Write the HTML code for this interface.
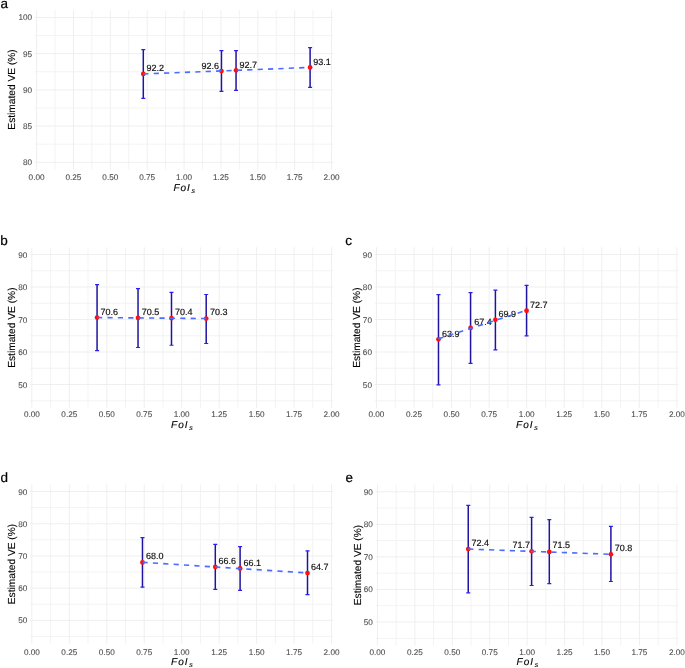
<!DOCTYPE html>
<html><head><meta charset="utf-8"><style>html,body{margin:0;padding:0;background:#fff;}
svg{display:block;font-family:"Liberation Sans", sans-serif;will-change:transform;text-rendering:geometricPrecision;}
.mn{stroke:#F3F3F3;stroke-width:1.0;}
.mj{stroke:#EFEFEF;stroke-width:1.0;}
.at{font-size:8.2px;fill:#4D4D4D;stroke:#4D4D4D;stroke-width:0.1px;}
.ti{font-size:10px;fill:#000;stroke:#000;stroke-width:0.12px;}
.xt{font-style:italic;letter-spacing:1px;}
.sub{font-size:7px;}
.yt{font-size:10.2px;}
.lb{font-size:9px;fill:#111;stroke:#111;stroke-width:0.18px;}
.tg{font-size:13.5px;fill:#000;stroke:#000;stroke-width:0.2px;}
.eb{stroke:#1E14A0;stroke-width:1.5;fill:none;}
.cap{stroke:#2A1EF2;stroke-width:1.2;fill:none;}
.pt{fill:#FF1010;}
.fit{stroke:#4A6CFF;stroke-width:1.6;stroke-dasharray:5.2 5.2;fill:none;}
</style></head>
<body><svg width="685" height="668" viewBox="0 0 685 668">
<line x1="34.77" x2="333.24" y1="144.19" y2="144.19" class="mn"/>
<line x1="34.77" x2="333.24" y1="107.97" y2="107.97" class="mn"/>
<line x1="34.77" x2="333.24" y1="71.76" y2="71.76" class="mn"/>
<line x1="34.77" x2="333.24" y1="35.54" y2="35.54" class="mn"/>
<line x1="55.01" x2="55.01" y1="10.19" y2="169.54" class="mn"/>
<line x1="91.88" x2="91.88" y1="10.19" y2="169.54" class="mn"/>
<line x1="128.75" x2="128.75" y1="10.19" y2="169.54" class="mn"/>
<line x1="165.62" x2="165.62" y1="10.19" y2="169.54" class="mn"/>
<line x1="202.49" x2="202.49" y1="10.19" y2="169.54" class="mn"/>
<line x1="239.36" x2="239.36" y1="10.19" y2="169.54" class="mn"/>
<line x1="276.23" x2="276.23" y1="10.19" y2="169.54" class="mn"/>
<line x1="313.10" x2="313.10" y1="10.19" y2="169.54" class="mn"/>
<line x1="34.77" x2="333.24" y1="162.30" y2="162.30" class="mj"/>
<line x1="34.77" x2="333.24" y1="126.08" y2="126.08" class="mj"/>
<line x1="34.77" x2="333.24" y1="89.87" y2="89.87" class="mj"/>
<line x1="34.77" x2="333.24" y1="53.65" y2="53.65" class="mj"/>
<line x1="34.77" x2="333.24" y1="17.43" y2="17.43" class="mj"/>
<line x1="36.57" x2="36.57" y1="10.19" y2="169.54" class="mj"/>
<line x1="73.44" x2="73.44" y1="10.19" y2="169.54" class="mj"/>
<line x1="110.31" x2="110.31" y1="10.19" y2="169.54" class="mj"/>
<line x1="147.18" x2="147.18" y1="10.19" y2="169.54" class="mj"/>
<line x1="184.06" x2="184.06" y1="10.19" y2="169.54" class="mj"/>
<line x1="220.93" x2="220.93" y1="10.19" y2="169.54" class="mj"/>
<line x1="257.80" x2="257.80" y1="10.19" y2="169.54" class="mj"/>
<line x1="294.67" x2="294.67" y1="10.19" y2="169.54" class="mj"/>
<line x1="331.54" x2="331.54" y1="10.19" y2="169.54" class="mj"/>
<text x="32.07" y="165.30" class="at" text-anchor="end">80</text>
<text x="32.07" y="129.08" class="at" text-anchor="end">85</text>
<text x="32.07" y="92.87" class="at" text-anchor="end">90</text>
<text x="32.07" y="56.65" class="at" text-anchor="end">95</text>
<text x="32.07" y="20.43" class="at" text-anchor="end">100</text>
<text x="36.57" y="180.00" class="at" text-anchor="middle">0.00</text>
<text x="73.44" y="180.00" class="at" text-anchor="middle">0.25</text>
<text x="110.31" y="180.00" class="at" text-anchor="middle">0.50</text>
<text x="147.18" y="180.00" class="at" text-anchor="middle">0.75</text>
<text x="184.06" y="180.00" class="at" text-anchor="middle">1.00</text>
<text x="220.93" y="180.00" class="at" text-anchor="middle">1.25</text>
<text x="257.80" y="180.00" class="at" text-anchor="middle">1.50</text>
<text x="294.67" y="180.00" class="at" text-anchor="middle">1.75</text>
<text x="331.54" y="180.00" class="at" text-anchor="middle">2.00</text>
<text x="173.45" y="191.20" class="ti xt">FoI<tspan class="sub" dx="0.7" dy="1.7">s</tspan></text>
<text transform="translate(15.00,89.46) rotate(-90)" class="ti yt" text-anchor="middle">Estimated VE (%)</text>
<path d="M143.30,49.60V98.40" class="eb"/><path d="M141.30,49.60H145.30M141.30,98.40H145.30" class="cap"/>
<path d="M221.46,50.54V91.36" class="eb"/><path d="M219.46,50.54H223.46M219.46,91.36H223.46" class="cap"/>
<path d="M236.05,50.54V90.34" class="eb"/><path d="M234.05,50.54H238.05M234.05,90.34H238.05" class="cap"/>
<path d="M310.10,47.55V87.42" class="eb"/><path d="M308.10,47.55H312.10M308.10,87.42H312.10" class="cap"/>
<circle cx="143.30" cy="73.93" r="2.4" class="pt"/>
<circle cx="221.46" cy="71.03" r="2.4" class="pt"/>
<circle cx="236.05" cy="70.31" r="2.4" class="pt"/>
<circle cx="310.10" cy="67.41" r="2.4" class="pt"/>
<text x="146.58" y="71.30" class="lb">92.2</text>
<text x="201.50" y="68.70" class="lb">92.6</text>
<text x="239.40" y="67.60" class="lb">92.7</text>
<text x="313.30" y="65.00" class="lb">93.1</text>
<line x1="143.30" y1="73.98" x2="310.10" y2="67.44" class="fit"/>
<text x="0.40" y="7.90" class="tg">a</text>
<line x1="30.05" x2="333.24" y1="400.75" y2="400.75" class="mn"/>
<line x1="30.05" x2="333.24" y1="368.25" y2="368.25" class="mn"/>
<line x1="30.05" x2="333.24" y1="335.76" y2="335.76" class="mn"/>
<line x1="30.05" x2="333.24" y1="303.27" y2="303.27" class="mn"/>
<line x1="30.05" x2="333.24" y1="270.78" y2="270.78" class="mn"/>
<line x1="50.58" x2="50.58" y1="247.23" y2="408.06" class="mn"/>
<line x1="88.04" x2="88.04" y1="247.23" y2="408.06" class="mn"/>
<line x1="125.50" x2="125.50" y1="247.23" y2="408.06" class="mn"/>
<line x1="162.96" x2="162.96" y1="247.23" y2="408.06" class="mn"/>
<line x1="200.43" x2="200.43" y1="247.23" y2="408.06" class="mn"/>
<line x1="237.89" x2="237.89" y1="247.23" y2="408.06" class="mn"/>
<line x1="275.35" x2="275.35" y1="247.23" y2="408.06" class="mn"/>
<line x1="312.81" x2="312.81" y1="247.23" y2="408.06" class="mn"/>
<line x1="30.05" x2="333.24" y1="384.50" y2="384.50" class="mj"/>
<line x1="30.05" x2="333.24" y1="352.01" y2="352.01" class="mj"/>
<line x1="30.05" x2="333.24" y1="319.52" y2="319.52" class="mj"/>
<line x1="30.05" x2="333.24" y1="287.03" y2="287.03" class="mj"/>
<line x1="30.05" x2="333.24" y1="254.54" y2="254.54" class="mj"/>
<line x1="31.85" x2="31.85" y1="247.23" y2="408.06" class="mj"/>
<line x1="69.31" x2="69.31" y1="247.23" y2="408.06" class="mj"/>
<line x1="106.77" x2="106.77" y1="247.23" y2="408.06" class="mj"/>
<line x1="144.23" x2="144.23" y1="247.23" y2="408.06" class="mj"/>
<line x1="181.69" x2="181.69" y1="247.23" y2="408.06" class="mj"/>
<line x1="219.16" x2="219.16" y1="247.23" y2="408.06" class="mj"/>
<line x1="256.62" x2="256.62" y1="247.23" y2="408.06" class="mj"/>
<line x1="294.08" x2="294.08" y1="247.23" y2="408.06" class="mj"/>
<line x1="331.54" x2="331.54" y1="247.23" y2="408.06" class="mj"/>
<text x="27.35" y="387.50" class="at" text-anchor="end">50</text>
<text x="27.35" y="355.01" class="at" text-anchor="end">60</text>
<text x="27.35" y="322.52" class="at" text-anchor="end">70</text>
<text x="27.35" y="290.03" class="at" text-anchor="end">80</text>
<text x="27.35" y="257.54" class="at" text-anchor="end">90</text>
<text x="31.85" y="417.00" class="at" text-anchor="middle">0.00</text>
<text x="69.31" y="417.00" class="at" text-anchor="middle">0.25</text>
<text x="106.77" y="417.00" class="at" text-anchor="middle">0.50</text>
<text x="144.23" y="417.00" class="at" text-anchor="middle">0.75</text>
<text x="181.69" y="417.00" class="at" text-anchor="middle">1.00</text>
<text x="219.16" y="417.00" class="at" text-anchor="middle">1.25</text>
<text x="256.62" y="417.00" class="at" text-anchor="middle">1.50</text>
<text x="294.08" y="417.00" class="at" text-anchor="middle">1.75</text>
<text x="331.54" y="417.00" class="at" text-anchor="middle">2.00</text>
<text x="171.09" y="427.80" class="ti xt">FoI<tspan class="sub" dx="0.7" dy="1.7">s</tspan></text>
<text transform="translate(14.80,327.64) rotate(-90)" class="ti yt" text-anchor="middle">Estimated VE (%)</text>
<path d="M97.07,284.58V350.69" class="eb"/><path d="M95.07,284.58H99.07M95.07,350.69H99.07" class="cap"/>
<path d="M138.03,288.67V347.48" class="eb"/><path d="M136.03,288.67H140.03M136.03,347.48H140.03" class="cap"/>
<path d="M171.49,292.39V345.24" class="eb"/><path d="M169.49,292.39H173.49M169.49,345.24H173.49" class="cap"/>
<path d="M206.20,294.48V343.48" class="eb"/><path d="M204.20,294.48H208.20M204.20,343.48H208.20" class="cap"/>
<circle cx="97.07" cy="317.57" r="2.4" class="pt"/>
<circle cx="138.03" cy="317.90" r="2.4" class="pt"/>
<circle cx="171.49" cy="318.22" r="2.4" class="pt"/>
<circle cx="206.20" cy="318.55" r="2.4" class="pt"/>
<text x="100.50" y="314.50" class="lb">70.6</text>
<text x="141.70" y="314.80" class="lb">70.5</text>
<text x="174.90" y="314.80" class="lb">70.4</text>
<text x="209.90" y="315.10" class="lb">70.3</text>
<line x1="97.07" y1="317.55" x2="206.20" y2="318.53" class="fit"/>
<text x="0.30" y="244.80" class="tg">b</text>
<line x1="374.65" x2="678.57" y1="400.75" y2="400.75" class="mn"/>
<line x1="374.65" x2="678.57" y1="368.25" y2="368.25" class="mn"/>
<line x1="374.65" x2="678.57" y1="335.76" y2="335.76" class="mn"/>
<line x1="374.65" x2="678.57" y1="303.27" y2="303.27" class="mn"/>
<line x1="374.65" x2="678.57" y1="270.78" y2="270.78" class="mn"/>
<line x1="395.23" x2="395.23" y1="247.23" y2="408.06" class="mn"/>
<line x1="432.78" x2="432.78" y1="247.23" y2="408.06" class="mn"/>
<line x1="470.33" x2="470.33" y1="247.23" y2="408.06" class="mn"/>
<line x1="507.88" x2="507.88" y1="247.23" y2="408.06" class="mn"/>
<line x1="545.44" x2="545.44" y1="247.23" y2="408.06" class="mn"/>
<line x1="582.99" x2="582.99" y1="247.23" y2="408.06" class="mn"/>
<line x1="620.54" x2="620.54" y1="247.23" y2="408.06" class="mn"/>
<line x1="658.09" x2="658.09" y1="247.23" y2="408.06" class="mn"/>
<line x1="374.65" x2="678.57" y1="384.50" y2="384.50" class="mj"/>
<line x1="374.65" x2="678.57" y1="352.01" y2="352.01" class="mj"/>
<line x1="374.65" x2="678.57" y1="319.52" y2="319.52" class="mj"/>
<line x1="374.65" x2="678.57" y1="287.03" y2="287.03" class="mj"/>
<line x1="374.65" x2="678.57" y1="254.54" y2="254.54" class="mj"/>
<line x1="376.45" x2="376.45" y1="247.23" y2="408.06" class="mj"/>
<line x1="414.00" x2="414.00" y1="247.23" y2="408.06" class="mj"/>
<line x1="451.56" x2="451.56" y1="247.23" y2="408.06" class="mj"/>
<line x1="489.11" x2="489.11" y1="247.23" y2="408.06" class="mj"/>
<line x1="526.66" x2="526.66" y1="247.23" y2="408.06" class="mj"/>
<line x1="564.21" x2="564.21" y1="247.23" y2="408.06" class="mj"/>
<line x1="601.76" x2="601.76" y1="247.23" y2="408.06" class="mj"/>
<line x1="639.32" x2="639.32" y1="247.23" y2="408.06" class="mj"/>
<line x1="676.87" x2="676.87" y1="247.23" y2="408.06" class="mj"/>
<text x="371.95" y="387.50" class="at" text-anchor="end">50</text>
<text x="371.95" y="355.01" class="at" text-anchor="end">60</text>
<text x="371.95" y="322.52" class="at" text-anchor="end">70</text>
<text x="371.95" y="290.03" class="at" text-anchor="end">80</text>
<text x="371.95" y="257.54" class="at" text-anchor="end">90</text>
<text x="376.45" y="417.00" class="at" text-anchor="middle">0.00</text>
<text x="414.00" y="417.00" class="at" text-anchor="middle">0.25</text>
<text x="451.56" y="417.00" class="at" text-anchor="middle">0.50</text>
<text x="489.11" y="417.00" class="at" text-anchor="middle">0.75</text>
<text x="526.66" y="417.00" class="at" text-anchor="middle">1.00</text>
<text x="564.21" y="417.00" class="at" text-anchor="middle">1.25</text>
<text x="601.76" y="417.00" class="at" text-anchor="middle">1.50</text>
<text x="639.32" y="417.00" class="at" text-anchor="middle">1.75</text>
<text x="676.87" y="417.00" class="at" text-anchor="middle">2.00</text>
<text x="516.06" y="427.80" class="ti xt">FoI<tspan class="sub" dx="0.7" dy="1.7">s</tspan></text>
<text transform="translate(359.90,327.64) rotate(-90)" class="ti yt" text-anchor="middle">Estimated VE (%)</text>
<path d="M438.48,294.60V384.90" class="eb"/><path d="M436.48,294.60H440.48M436.48,384.90H440.48" class="cap"/>
<path d="M470.57,292.57V363.30" class="eb"/><path d="M468.57,292.57H472.57M468.57,363.30H472.57" class="cap"/>
<path d="M495.40,290.20V349.90" class="eb"/><path d="M493.40,290.20H497.40M493.40,349.90H497.40" class="cap"/>
<path d="M526.57,285.47V335.80" class="eb"/><path d="M524.57,285.47H528.57M524.57,335.80H528.57" class="cap"/>
<circle cx="438.48" cy="339.34" r="2.4" class="pt"/>
<circle cx="470.57" cy="327.97" r="2.4" class="pt"/>
<circle cx="495.40" cy="319.84" r="2.4" class="pt"/>
<circle cx="526.57" cy="310.75" r="2.4" class="pt"/>
<text x="442.10" y="336.90" class="lb">63.9</text>
<text x="474.20" y="325.00" class="lb">67.4</text>
<text x="498.60" y="316.90" class="lb">69.9</text>
<text x="530.00" y="307.70" class="lb">72.7</text>
<line x1="438.48" y1="338.86" x2="526.57" y2="310.24" class="fit"/>
<text x="345.30" y="244.90" class="tg">c</text>
<line x1="30.05" x2="333.24" y1="636.49" y2="636.49" class="mn"/>
<line x1="30.05" x2="333.24" y1="604.27" y2="604.27" class="mn"/>
<line x1="30.05" x2="333.24" y1="572.07" y2="572.07" class="mn"/>
<line x1="30.05" x2="333.24" y1="539.86" y2="539.86" class="mn"/>
<line x1="30.05" x2="333.24" y1="507.65" y2="507.65" class="mn"/>
<line x1="50.58" x2="50.58" y1="484.29" y2="643.73" class="mn"/>
<line x1="88.04" x2="88.04" y1="484.29" y2="643.73" class="mn"/>
<line x1="125.50" x2="125.50" y1="484.29" y2="643.73" class="mn"/>
<line x1="162.96" x2="162.96" y1="484.29" y2="643.73" class="mn"/>
<line x1="200.43" x2="200.43" y1="484.29" y2="643.73" class="mn"/>
<line x1="237.89" x2="237.89" y1="484.29" y2="643.73" class="mn"/>
<line x1="275.35" x2="275.35" y1="484.29" y2="643.73" class="mn"/>
<line x1="312.81" x2="312.81" y1="484.29" y2="643.73" class="mn"/>
<line x1="30.05" x2="333.24" y1="620.38" y2="620.38" class="mj"/>
<line x1="30.05" x2="333.24" y1="588.17" y2="588.17" class="mj"/>
<line x1="30.05" x2="333.24" y1="555.96" y2="555.96" class="mj"/>
<line x1="30.05" x2="333.24" y1="523.75" y2="523.75" class="mj"/>
<line x1="30.05" x2="333.24" y1="491.54" y2="491.54" class="mj"/>
<line x1="31.85" x2="31.85" y1="484.29" y2="643.73" class="mj"/>
<line x1="69.31" x2="69.31" y1="484.29" y2="643.73" class="mj"/>
<line x1="106.77" x2="106.77" y1="484.29" y2="643.73" class="mj"/>
<line x1="144.23" x2="144.23" y1="484.29" y2="643.73" class="mj"/>
<line x1="181.69" x2="181.69" y1="484.29" y2="643.73" class="mj"/>
<line x1="219.16" x2="219.16" y1="484.29" y2="643.73" class="mj"/>
<line x1="256.62" x2="256.62" y1="484.29" y2="643.73" class="mj"/>
<line x1="294.08" x2="294.08" y1="484.29" y2="643.73" class="mj"/>
<line x1="331.54" x2="331.54" y1="484.29" y2="643.73" class="mj"/>
<text x="27.35" y="623.38" class="at" text-anchor="end">50</text>
<text x="27.35" y="591.17" class="at" text-anchor="end">60</text>
<text x="27.35" y="558.96" class="at" text-anchor="end">70</text>
<text x="27.35" y="526.75" class="at" text-anchor="end">80</text>
<text x="27.35" y="494.54" class="at" text-anchor="end">90</text>
<text x="31.85" y="654.70" class="at" text-anchor="middle">0.00</text>
<text x="69.31" y="654.70" class="at" text-anchor="middle">0.25</text>
<text x="106.77" y="654.70" class="at" text-anchor="middle">0.50</text>
<text x="144.23" y="654.70" class="at" text-anchor="middle">0.75</text>
<text x="181.69" y="654.70" class="at" text-anchor="middle">1.00</text>
<text x="219.16" y="654.70" class="at" text-anchor="middle">1.25</text>
<text x="256.62" y="654.70" class="at" text-anchor="middle">1.50</text>
<text x="294.08" y="654.70" class="at" text-anchor="middle">1.75</text>
<text x="331.54" y="654.70" class="at" text-anchor="middle">2.00</text>
<text x="171.09" y="665.00" class="ti xt">FoI<tspan class="sub" dx="0.7" dy="1.7">s</tspan></text>
<text transform="translate(14.80,564.01) rotate(-90)" class="ti yt" text-anchor="middle">Estimated VE (%)</text>
<path d="M142.47,537.55V587.20" class="eb"/><path d="M140.47,537.55H144.47M140.47,587.20H144.47" class="cap"/>
<path d="M215.30,544.42V589.30" class="eb"/><path d="M213.30,544.42H217.30M213.30,589.30H217.30" class="cap"/>
<path d="M240.10,546.64V590.30" class="eb"/><path d="M238.10,546.64H242.10M238.10,590.30H242.10" class="cap"/>
<path d="M307.50,550.88V594.60" class="eb"/><path d="M305.50,550.88H309.50M305.50,594.60H309.50" class="cap"/>
<circle cx="142.47" cy="562.40" r="2.4" class="pt"/>
<circle cx="215.30" cy="566.91" r="2.4" class="pt"/>
<circle cx="240.10" cy="568.52" r="2.4" class="pt"/>
<circle cx="307.50" cy="573.03" r="2.4" class="pt"/>
<text x="146.10" y="559.20" class="lb">68.0</text>
<text x="218.60" y="563.60" class="lb">66.6</text>
<text x="243.50" y="566.00" class="lb">66.1</text>
<text x="311.10" y="570.00" class="lb">64.7</text>
<line x1="142.47" y1="562.32" x2="307.50" y2="572.94" class="fit"/>
<text x="0.45" y="481.70" class="tg">d</text>
<line x1="375.63" x2="678.57" y1="638.29" y2="638.29" class="mn"/>
<line x1="375.63" x2="678.57" y1="605.73" y2="605.73" class="mn"/>
<line x1="375.63" x2="678.57" y1="573.17" y2="573.17" class="mn"/>
<line x1="375.63" x2="678.57" y1="540.61" y2="540.61" class="mn"/>
<line x1="375.63" x2="678.57" y1="508.05" y2="508.05" class="mn"/>
<line x1="396.14" x2="396.14" y1="484.44" y2="645.62" class="mn"/>
<line x1="433.57" x2="433.57" y1="484.44" y2="645.62" class="mn"/>
<line x1="471.00" x2="471.00" y1="484.44" y2="645.62" class="mn"/>
<line x1="508.44" x2="508.44" y1="484.44" y2="645.62" class="mn"/>
<line x1="545.87" x2="545.87" y1="484.44" y2="645.62" class="mn"/>
<line x1="583.30" x2="583.30" y1="484.44" y2="645.62" class="mn"/>
<line x1="620.73" x2="620.73" y1="484.44" y2="645.62" class="mn"/>
<line x1="658.15" x2="658.15" y1="484.44" y2="645.62" class="mn"/>
<line x1="375.63" x2="678.57" y1="622.01" y2="622.01" class="mj"/>
<line x1="375.63" x2="678.57" y1="589.45" y2="589.45" class="mj"/>
<line x1="375.63" x2="678.57" y1="556.89" y2="556.89" class="mj"/>
<line x1="375.63" x2="678.57" y1="524.33" y2="524.33" class="mj"/>
<line x1="375.63" x2="678.57" y1="491.77" y2="491.77" class="mj"/>
<line x1="377.43" x2="377.43" y1="484.44" y2="645.62" class="mj"/>
<line x1="414.86" x2="414.86" y1="484.44" y2="645.62" class="mj"/>
<line x1="452.29" x2="452.29" y1="484.44" y2="645.62" class="mj"/>
<line x1="489.72" x2="489.72" y1="484.44" y2="645.62" class="mj"/>
<line x1="527.15" x2="527.15" y1="484.44" y2="645.62" class="mj"/>
<line x1="564.58" x2="564.58" y1="484.44" y2="645.62" class="mj"/>
<line x1="602.01" x2="602.01" y1="484.44" y2="645.62" class="mj"/>
<line x1="639.44" x2="639.44" y1="484.44" y2="645.62" class="mj"/>
<line x1="676.87" x2="676.87" y1="484.44" y2="645.62" class="mj"/>
<text x="372.93" y="625.01" class="at" text-anchor="end">50</text>
<text x="372.93" y="592.45" class="at" text-anchor="end">60</text>
<text x="372.93" y="559.89" class="at" text-anchor="end">70</text>
<text x="372.93" y="527.33" class="at" text-anchor="end">80</text>
<text x="372.93" y="494.77" class="at" text-anchor="end">90</text>
<text x="377.43" y="654.70" class="at" text-anchor="middle">0.00</text>
<text x="414.86" y="654.70" class="at" text-anchor="middle">0.25</text>
<text x="452.29" y="654.70" class="at" text-anchor="middle">0.50</text>
<text x="489.72" y="654.70" class="at" text-anchor="middle">0.75</text>
<text x="527.15" y="654.70" class="at" text-anchor="middle">1.00</text>
<text x="564.58" y="654.70" class="at" text-anchor="middle">1.25</text>
<text x="602.01" y="654.70" class="at" text-anchor="middle">1.50</text>
<text x="639.44" y="654.70" class="at" text-anchor="middle">1.75</text>
<text x="676.87" y="654.70" class="at" text-anchor="middle">2.00</text>
<text x="516.55" y="665.00" class="ti xt">FoI<tspan class="sub" dx="0.7" dy="1.7">s</tspan></text>
<text transform="translate(360.90,565.03) rotate(-90)" class="ti yt" text-anchor="middle">Estimated VE (%)</text>
<path d="M468.25,505.42V592.80" class="eb"/><path d="M466.25,505.42H470.25M466.25,592.80H470.25" class="cap"/>
<path d="M531.60,517.47V585.50" class="eb"/><path d="M529.60,517.47H533.60M529.60,585.50H533.60" class="cap"/>
<path d="M549.30,519.60V583.60" class="eb"/><path d="M547.30,519.60H551.30M547.30,583.60H551.30" class="cap"/>
<path d="M610.90,526.47V581.50" class="eb"/><path d="M608.90,526.47H612.90M608.90,581.50H612.90" class="cap"/>
<circle cx="468.25" cy="549.08" r="2.4" class="pt"/>
<circle cx="531.60" cy="551.35" r="2.4" class="pt"/>
<circle cx="549.30" cy="552.01" r="2.4" class="pt"/>
<circle cx="610.90" cy="554.29" r="2.4" class="pt"/>
<text x="471.50" y="546.00" class="lb">72.4</text>
<text x="512.40" y="547.80" class="lb">71.7</text>
<text x="552.40" y="548.40" class="lb">71.5</text>
<text x="614.80" y="550.90" class="lb">70.8</text>
<line x1="468.25" y1="549.06" x2="610.90" y2="554.27" class="fit"/>
<text x="345.50" y="481.70" class="tg">e</text>
</svg>
</body></html>
